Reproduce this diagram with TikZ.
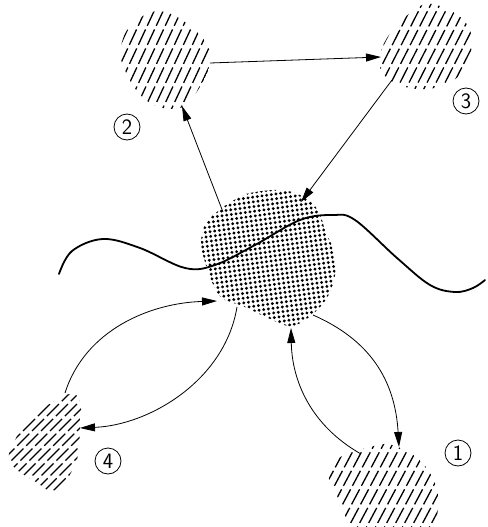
\documentclass[tikz,border=0pt]{standalone}
\usetikzlibrary{arrows.meta,patterns.meta}
\begin{document}
\begin{tikzpicture}[x=1pt,y=-1pt,
  conn/.style={line width=0.8pt,-{Triangle[length=15pt,width=8pt]}},
  num/.style={draw,circle,line width=0.8pt,minimum size=26pt,inner sep=0pt,font=\sffamily\fontsize{22}{22}\selectfont},
  hatch/.style={line width=1.3pt,dash pattern=on 17pt off 4pt}]
\useasboundingbox (0,0) rectangle (487,527);
\clip (0,0) rectangle (487,527);
% central dotted blob
\fill[pattern={Dots[radius=1.6pt,distance=4.7pt,angle=8]}]
  plot[smooth cycle,tension=0.6] coordinates {(250,193) (280,190) (302,196) (318,210) (325,230) (334,252) (335,275) (328,296) (314,313) (292,326) (268,318) (245,307) (222,298) (212,282) (205,262) (201,243) (206,223) (222,208) (236,199)};
% hatched blobs
\begin{scope}
  \clip plot[smooth cycle,tension=0.7] coordinates {(122,42) (137,20) (165,12) (200,35) (210,60) (198,90) (180,108) (147,101) (124,68)};
  \foreach \k in {0,...,32} {\draw[hatch] (40+\k*9,140) -- ++(-65:170);}
\end{scope}
\begin{scope}
  \clip plot[smooth cycle,tension=0.7] coordinates {(382,48) (410,13) (437,5) (470,30) (462,72) (427,89) (387,78)};
  \foreach \k in {0,...,32} {\draw[hatch] (300+\k*9,120) -- ++(-63:170);}
\end{scope}
\begin{scope}
  \clip plot[smooth cycle,tension=0.7] coordinates {(48,405) (70,394) (80,402) (80,428) (76,462) (56,490) (36,482) (10,462) (15,440) (30,420)};
  \foreach \k in {0,...,40} {\draw[hatch] (-120+\k*9,520) -- ++(-45:200);}
\end{scope}
\begin{scope}
  \clip plot[smooth cycle,tension=0.7] coordinates {(330,466) (370,447) (398,447) (428,470) (438,508) (420,545) (363,540) (340,502)};
  \foreach \k in {0,...,32} {\draw[hatch] (250+\k*9,560) -- ++(-62:170);}
\end{scope}
% connector end points
\coordinate (b2r) at (210,63);
\coordinate (b3l) at (381,57);
\coordinate (b3b) at (392,80);
\coordinate (ct) at (301,202);
\coordinate (cl) at (223,212);
\coordinate (b2b) at (182,106);
% labels
\node[num] (n2) at (127,127) {2};
\node[num] (n3) at (466,101) {3};
\node[num] (n4) at (108,461) {4};
\node[num] (n1) at (458,453) {1};
% straight arrows
\draw[conn] (b2r) -- (b3l);
\draw[conn] (b3b) -- (ct);
\draw[conn] (cl) -- (b2b);
% curved arrows
\coordinate (b4t) at (65,393);
\coordinate (cw) at (217,301);
\coordinate (cb1) at (237,307);
\coordinate (b4r) at (80,428);
\coordinate (cb2) at (313,315);
\coordinate (b1t) at (399,447);
\coordinate (b1l) at (361,454);
\coordinate (cb3) at (291,328);
\draw[conn] (b4t) .. controls (85,330) and (150,303) .. (cw);
\draw[conn] (cb1) .. controls (225,380) and (150,425) .. (b4r);
\draw[conn] (cb2) .. controls (370,340) and (395,380) .. (b1t);
\draw[conn] (b1l) .. controls (310,425) and (292,380) .. (cb3);
% wavy line
\draw[line width=1.8pt,line cap=round] plot[smooth,tension=0.6] coordinates {(59,274) (72,251) (103,239) (140,248) (185,268) (215,265) (255,245) (300,220) (333,215) (355,220) (397,258) (430,285) (455,292) (473,288) (485,280)};
\end{tikzpicture}
\end{document}
